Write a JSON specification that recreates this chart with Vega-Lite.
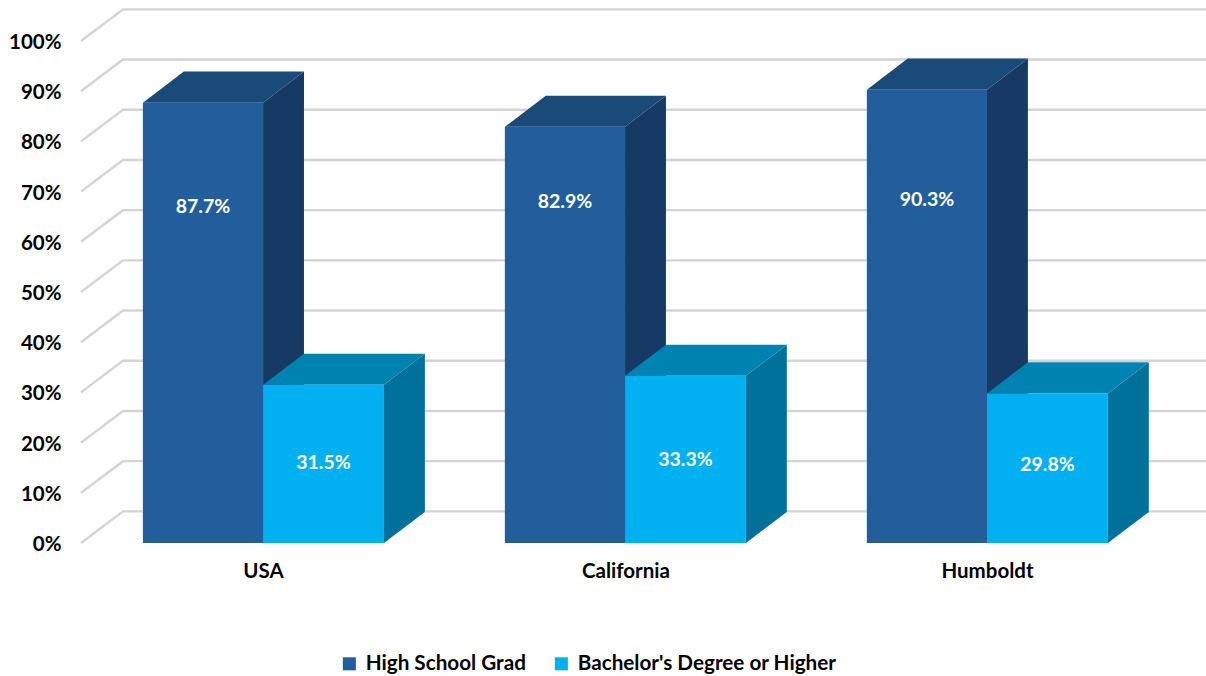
{
"$schema":"https://vega.github.io/schema/vega-lite/v6.json",
"width":1125,"height":538,
"autosize":{"type":"none"},
"padding":{"left":81,"top":5,"right":0,"bottom":133},
"background":"white",
"config":{"view":{"stroke":null},"font":"Lato"},
"datasets":{
"grid":[
{"level":0,"x":0,"y":0},{"level":0,"x":0.116,"y":6.3},{"level":0,"x":3.108,"y":6.3},
{"level":10,"x":0,"y":10},{"level":10,"x":0.116,"y":16.3},{"level":10,"x":3.108,"y":16.3},
{"level":20,"x":0,"y":20},{"level":20,"x":0.116,"y":26.3},{"level":20,"x":3.108,"y":26.3},
{"level":30,"x":0,"y":30},{"level":30,"x":0.116,"y":36.3},{"level":30,"x":3.108,"y":36.3},
{"level":40,"x":0,"y":40},{"level":40,"x":0.116,"y":46.3},{"level":40,"x":3.108,"y":46.3},
{"level":50,"x":0,"y":50},{"level":50,"x":0.116,"y":56.3},{"level":50,"x":3.108,"y":56.3},
{"level":60,"x":0,"y":60},{"level":60,"x":0.116,"y":66.3},{"level":60,"x":3.108,"y":66.3},
{"level":70,"x":0,"y":70},{"level":70,"x":0.116,"y":76.3},{"level":70,"x":3.108,"y":76.3},
{"level":80,"x":0,"y":80},{"level":80,"x":0.116,"y":86.3},{"level":80,"x":3.108,"y":86.3},
{"level":90,"x":0,"y":90},{"level":90,"x":0.116,"y":96.3},{"level":90,"x":3.108,"y":96.3},
{"level":100,"x":0,"y":100},{"level":100,"x":0.116,"y":106.3},{"level":100,"x":3.108,"y":106.3}
],
"faces":[
{"piece":"USA HS side","shade":"HS side","x":0.503,"top":87.7,"base":0},{"piece":"USA HS side","shade":"HS side","x":0.616,"top":93.9,"base":6.2},
{"piece":"USA HS top","shade":"HS top","x":0.171,"top":87.7,"base":87.7},{"piece":"USA HS top","shade":"HS top","x":0.284,"top":93.9,"base":87.7},{"piece":"USA HS top","shade":"HS top","x":0.503,"top":93.9,"base":87.7},{"piece":"USA HS top","shade":"HS top","x":0.616,"top":93.9,"base":93.9},
{"piece":"CA HS side","shade":"HS side","x":1.503,"top":82.9,"base":0},{"piece":"CA HS side","shade":"HS side","x":1.616,"top":89.1,"base":6.2},
{"piece":"CA HS top","shade":"HS top","x":1.171,"top":82.9,"base":82.9},{"piece":"CA HS top","shade":"HS top","x":1.284,"top":89.1,"base":82.9},{"piece":"CA HS top","shade":"HS top","x":1.503,"top":89.1,"base":82.9},{"piece":"CA HS top","shade":"HS top","x":1.616,"top":89.1,"base":89.1},
{"piece":"HU HS side","shade":"HS side","x":2.503,"top":90.3,"base":0},{"piece":"HU HS side","shade":"HS side","x":2.616,"top":96.5,"base":6.2},
{"piece":"HU HS top","shade":"HS top","x":2.171,"top":90.3,"base":90.3},{"piece":"HU HS top","shade":"HS top","x":2.284,"top":96.5,"base":90.3},{"piece":"HU HS top","shade":"HS top","x":2.503,"top":96.5,"base":90.3},{"piece":"HU HS top","shade":"HS top","x":2.616,"top":96.5,"base":96.5},
{"piece":"USA BA side","shade":"BA side","x":0.837,"top":31.5,"base":0},{"piece":"USA BA side","shade":"BA side","x":0.950,"top":37.7,"base":6.2},
{"piece":"USA BA top","shade":"BA top","x":0.503,"top":31.5,"base":31.5},{"piece":"USA BA top","shade":"BA top","x":0.616,"top":37.7,"base":31.5},{"piece":"USA BA top","shade":"BA top","x":0.837,"top":37.7,"base":31.5},{"piece":"USA BA top","shade":"BA top","x":0.950,"top":37.7,"base":37.7},
{"piece":"CA BA side","shade":"BA side","x":1.837,"top":33.3,"base":0},{"piece":"CA BA side","shade":"BA side","x":1.950,"top":39.5,"base":6.2},
{"piece":"CA BA top","shade":"BA top","x":1.503,"top":33.3,"base":33.3},{"piece":"CA BA top","shade":"BA top","x":1.616,"top":39.5,"base":33.3},{"piece":"CA BA top","shade":"BA top","x":1.837,"top":39.5,"base":33.3},{"piece":"CA BA top","shade":"BA top","x":1.950,"top":39.5,"base":39.5},
{"piece":"HU BA side","shade":"BA side","x":2.837,"top":29.8,"base":0},{"piece":"HU BA side","shade":"BA side","x":2.950,"top":36.0,"base":6.2},
{"piece":"HU BA top","shade":"BA top","x":2.503,"top":29.8,"base":29.8},{"piece":"HU BA top","shade":"BA top","x":2.616,"top":36.0,"base":29.8},{"piece":"HU BA top","shade":"BA top","x":2.837,"top":36.0,"base":29.8},{"piece":"HU BA top","shade":"BA top","x":2.950,"top":36.0,"base":36.0}
],
"bars":[
{"category":"USA","series":"High School Grad","value":87.7,"label":"87.7%","x0":0.171,"x1":0.503,"xc":0.337,"labelAt":67.3},
{"category":"USA","series":"Bachelor's Degree or Higher","value":31.5,"label":"31.5%","x0":0.503,"x1":0.837,"xc":0.670,"labelAt":16.3},
{"category":"California","series":"High School Grad","value":82.9,"label":"82.9%","x0":1.171,"x1":1.503,"xc":1.337,"labelAt":68.3},
{"category":"California","series":"Bachelor's Degree or Higher","value":33.3,"label":"33.3%","x0":1.503,"x1":1.837,"xc":1.670,"labelAt":16.9},
{"category":"Humboldt","series":"High School Grad","value":90.3,"label":"90.3%","x0":2.171,"x1":2.503,"xc":2.337,"labelAt":68.8},
{"category":"Humboldt","series":"Bachelor's Degree or Higher","value":29.8,"label":"29.8%","x0":2.503,"x1":2.837,"xc":2.670,"labelAt":15.9}
]
},
"layer":[
{
"data":{"name":"grid"},
"mark":{"type":"line","color":"#D4D4D4","strokeWidth":2.4,"interpolate":"linear"},
"encoding":{
"x":{"field":"x","type":"quantitative","scale":{"domain":[0,3.108],"nice":false,"zero":false},
"axis":{"title":null,"values":[0.503,1.504,2.503],"labelExpr":"datum.value<1?'USA':datum.value<2?'California':'Humboldt'","grid":false,"domain":false,"ticks":false,"labelFontSize":20.5,"labelFontWeight":"bold","labelColor":"#000000","labelPadding":18,"labelFont":"Lato","labelOverlap":false,"labelFlush":false}},
"y":{"field":"y","type":"quantitative","scale":{"domain":[0,107.17],"nice":false,"zero":false},
"axis":{"title":null,"values":[0,10,20,30,40,50,60,70,80,90,100],"labelExpr":"datum.value+'%'","grid":false,"domain":false,"ticks":false,"labelFontSize":20.5,"labelFontWeight":"bold","labelColor":"#000000","labelPadding":20,"labelOffset":1.5,"labelFont":"Lato","labelOverlap":false,"labelFlush":false}},
"detail":{"field":"level","type":"nominal"}
}
},
{
"data":{"name":"faces"},
"mark":{"type":"area","interpolate":"linear"},
"encoding":{
"x":{"field":"x","type":"quantitative"},
"y":{"field":"top","type":"quantitative"},
"y2":{"field":"base"},
"detail":{"field":"piece","type":"nominal"},
"color":{"field":"shade","type":"nominal","legend":null,"scale":{"domain":["HS side","HS top","BA side","BA top"],"range":["#163A64","#1A4A78","#00719B","#0083B0"]}}
}
},
{
"data":{"name":"bars"},
"mark":{"type":"bar"},
"encoding":{
"x":{"field":"x0","type":"quantitative"},
"x2":{"field":"x1"},
"y":{"field":"value","type":"quantitative"},
"y2":{"datum":0},
"color":{"field":"series","type":"nominal","sort":null,"scale":{"domain":["High School Grad","Bachelor's Degree or Higher"],"range":["#215E9B","#00B0F0"]},
"legend":{"title":null,"orient":"none","legendX":258,"legendY":648,"direction":"horizontal","columns":2,"symbolType":"square","symbolSize":170,"symbolStrokeWidth":0,"labelFontSize":20.7,"labelFontWeight":"bold","labelColor":"#000000","labelFont":"Lato","labelOffset":6,"columnPadding":25,"labelLimit":400}}
}
},
{
"data":{"name":"bars"},
"mark":{"type":"text","color":"#FFFFFF","fontSize":19.5,"fontWeight":"bold","font":"Lato","align":"center","baseline":"middle","dy":2},
"encoding":{
"x":{"field":"xc","type":"quantitative"},
"y":{"field":"labelAt","type":"quantitative"},
"text":{"field":"label","type":"nominal"}
}
}
],
"resolve":{"scale":{"color":"independent"}}
}
